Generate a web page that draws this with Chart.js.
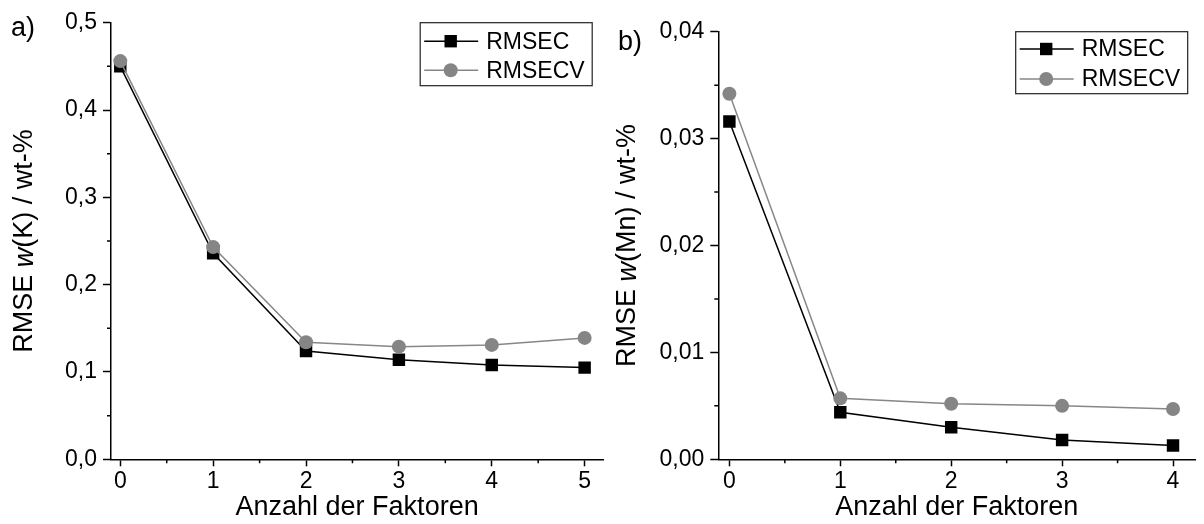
<!DOCTYPE html>
<html>
<head>
<meta charset="utf-8">
<script src="https://cdn.jsdelivr.net/npm/chart.js@4/dist/chart.umd.min.js"></script>
<style>
  body { margin: 0; background: #fff; }
  #wrap { position: relative; width: 1204px; height: 524px; overflow: hidden; }
  canvas { position: absolute; top: 0; }
</style>
</head>
<body>
<div id="wrap">
  <canvas id="chartK" width="612" height="524" style="left:0"></canvas>
  <canvas id="chartMn" width="604" height="524" style="left:600px"></canvas>
</div>
<script>
// panel a) potassium
const factorsK = [0, 1, 2, 3, 4, 5];
const rmsecK = [0.450, 0.236, 0.124, 0.114, 0.108, 0.105];
const rmsecvK = [0.456, 0.243, 0.134, 0.129, 0.131, 0.139];
const xTicksK = [0, 1, 2, 3, 4, 5];
const yTicksK = [0, 0.1, 0.2, 0.3, 0.4, 0.5];

// panel b) manganese
const factorsMn = [0, 1, 2, 3, 4];
const rmsecMn = [0.0316, 0.0044, 0.0030, 0.0018, 0.0013];
const rmsecvMn = [0.0342, 0.0057, 0.0052, 0.0050, 0.0047];
const xTicksMn = [0, 1, 2, 3, 4];
const yTicksMn = [0, 0.01, 0.02, 0.03, 0.04];

const seriesNames = ['RMSEC', 'RMSECV'];
const FONT = "'Liberation Sans', Arial, sans-serif";
const GRAY = '#878787';

const pairs = (xs, ys) => xs.map((x, i) => ({ x: x, y: ys[i] }));
const comma = (v, d) => v.toFixed(d).replace('.', ',');

// minor ticks, rotated y title with italic w, panel label and legend box
const decor = {
  id: 'decor',
  afterDraw(chart, args, o) {
    const ctx = chart.ctx, a = chart.chartArea;
    const xs = chart.scales.x, ys = chart.scales.y;
    ctx.save();
    ctx.strokeStyle = '#000';
    ctx.lineWidth = 1.5;
    ctx.beginPath();
    for (let i = 0; i < xs.ticks.length - 1; i++) {
      const px = xs.getPixelForValue((xs.ticks[i].value + xs.ticks[i + 1].value) / 2);
      ctx.moveTo(px, a.bottom); ctx.lineTo(px, a.bottom + 4);
    }
    for (let i = 0; i < ys.ticks.length - 1; i++) {
      const py = ys.getPixelForValue((ys.ticks[i].value + ys.ticks[i + 1].value) / 2);
      ctx.moveTo(a.left, py); ctx.lineTo(a.left - 4, py);
    }
    ctx.stroke();

    // y axis title
    ctx.fillStyle = '#000';
    ctx.textBaseline = 'middle';
    ctx.textAlign = 'left';
    const fonts = o.titleParts.map(p => (p[1] ? 'italic ' : '') + '27px ' + FONT);
    let total = 0;
    o.titleParts.forEach((p, i) => { ctx.font = fonts[i]; total += ctx.measureText(p[0]).width; });
    ctx.save();
    ctx.translate(o.titleX, (a.top + a.bottom) / 2);
    ctx.rotate(-Math.PI / 2);
    let tx = -total / 2;
    o.titleParts.forEach((p, i) => {
      ctx.font = fonts[i];
      ctx.fillText(p[0], tx, 0);
      tx += ctx.measureText(p[0]).width;
    });
    ctx.restore();

    // panel label
    ctx.font = '27px ' + FONT;
    ctx.fillText(o.label, o.labelX, o.labelY);

    // legend
    const b = o.legend;
    const bx = a.right - b.right - b.w, by = a.top + b.top;
    ctx.fillStyle = '#fff';
    ctx.fillRect(bx, by, b.w, b.h);
    ctx.strokeStyle = '#222';
    ctx.lineWidth = 1.2;
    ctx.strokeRect(bx, by, b.w, b.h);
    chart.data.datasets.forEach((ds, i) => {
      const ry = by + b.rows[i];
      ctx.strokeStyle = ds.borderColor;
      ctx.lineWidth = 1.5;
      ctx.beginPath();
      ctx.moveTo(bx + 4, ry); ctx.lineTo(bx + 58, ry);
      ctx.stroke();
      ctx.fillStyle = ds.pointBackgroundColor;
      if (ds.pointStyle === 'rect') {
        ctx.fillRect(bx + 30.5 - 6.2, ry - 6.2, 12.4, 12.4);
      } else {
        ctx.beginPath(); ctx.arc(bx + 30.5, ry, 7, 0, Math.PI * 2); ctx.fill();
      }
      ctx.fillStyle = '#000';
      ctx.font = '23px ' + FONT;
      ctx.fillText(ds.label, bx + 66, ry + 1);
    });
    ctx.restore();
  }
};

function makeChart(id, f) {
  return new Chart(document.getElementById(id), {
    type: 'line',
    data: {
      datasets: [{
        label: seriesNames[0],
        data: pairs(f.xs, f.rmsec),
        borderColor: '#000',
        backgroundColor: '#000',
        pointBackgroundColor: '#000',
        pointBorderColor: '#000',
        borderWidth: 1.5,
        pointStyle: 'rect',
        pointRadius: 8.8,
        pointBorderWidth: 0,
        order: 1
      }, {
        label: seriesNames[1],
        data: pairs(f.xs, f.rmsecv),
        borderColor: GRAY,
        backgroundColor: GRAY,
        pointBackgroundColor: '#858585',
        pointBorderColor: '#858585',
        borderWidth: 1.5,
        pointStyle: 'circle',
        pointRadius: 7,
        pointBorderWidth: 0,
        order: 0
      }]
    },
    options: {
      responsive: false,
      animation: false,
      layout: { padding: f.padding },
      plugins: {
        legend: { display: false },
        tooltip: { enabled: false },
        decor: f.decor
      },
      scales: {
        x: {
          type: 'linear',
          min: f.xMin,
          max: f.xMax,
          afterBuildTicks: s => { s.ticks = f.xTicks.map(v => ({ value: v })); },
          afterFit: s => { s.height = f.xHeight; },
          border: { display: true, color: '#000', width: 1.5 },
          grid: { display: true, drawOnChartArea: false, drawTicks: true, tickLength: 7, tickColor: '#000', tickWidth: 1.5 },
          ticks: {
            padding: 2,
            color: '#000',
            font: { family: FONT, size: 23 },
            callback: v => String(v)
          },
          title: {
            display: true,
            text: 'Anzahl der Faktoren',
            color: '#000',
            font: { family: FONT, size: 27 },
            padding: { top: 0, bottom: 0 }
          }
        },
        y: {
          type: 'linear',
          min: 0,
          max: f.yMax,
          afterBuildTicks: s => { s.ticks = f.yTicks.map(v => ({ value: v })); },
          afterFit: s => { s.width = f.yWidth; },
          border: { display: true, color: '#000', width: 1.5 },
          grid: { display: true, drawOnChartArea: false, drawTicks: true, tickLength: 8, tickColor: '#000', tickWidth: 1.5 },
          ticks: {
            padding: 6,
            color: '#000',
            font: { family: FONT, size: 23 },
            callback: v => comma(v, f.decimals)
          }
        }
      }
    },
    plugins: [decor]
  });
}

makeChart('chartK', {
  xs: factorsK, rmsec: rmsecK, rmsecv: rmsecvK,
  xTicks: xTicksK, yTicks: yTicksK,
  xMin: -0.1, xMax: 5.2, yMax: 0.5, decimals: 1,
  padding: { top: 22.7, right: 5.3, left: 0, bottom: 0 },
  xHeight: 64.7, yWidth: 111,
  decor: {
    titleX: 25,
    titleParts: [['RMSE ', false], ['w', true], ['(K) / wt-%', false]],
    label: 'a)', labelX: 11, labelY: 29,
    legend: { right: 11, top: 0, w: 172, h: 63, rows: [18.5, 47.5] }
  }
});

makeChart('chartMn', {
  xs: factorsMn, rmsec: rmsecMn, rmsecv: rmsecvMn,
  xTicks: xTicksMn, yTicks: yTicksMn,
  xMin: -0.1, xMax: 4.2, yMax: 0.04, decimals: 2,
  padding: { top: 31.7, right: 1.5, left: 0, bottom: 0 },
  xHeight: 64.7, yWidth: 118.3,
  decor: {
    titleX: 28,
    titleParts: [['RMSE ', false], ['w', true], ['(Mn) / wt-%', false]],
    label: 'b)', labelX: 18, labelY: 43,
    legend: { right: 7.5, top: 0, w: 172, h: 62, rows: [17.3, 47.3] }
  }
});
</script>
</body>
</html>
